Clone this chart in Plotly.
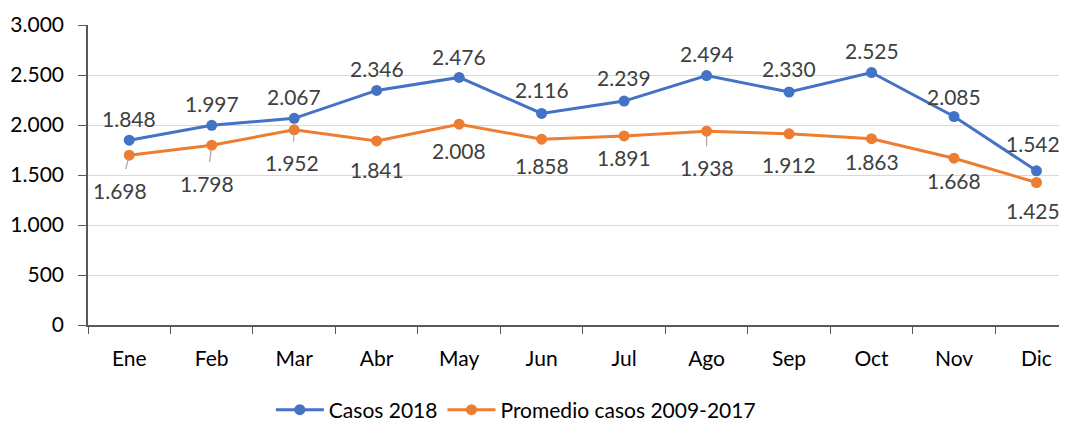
import plotly.graph_objects as go

MONTHS = ["Ene", "Feb", "Mar", "Abr", "May", "Jun", "Jul", "Ago", "Sep", "Oct", "Nov", "Dic"]
CASOS_2018 = [1848, 1997, 2067, 2346, 2476, 2116, 2239, 2494, 2330, 2525, 2085, 1542]
PROMEDIO_2009_2017 = [1698, 1798, 1952, 1841, 2008, 1858, 1891, 1938, 1912, 1863, 1668, 1425]

BLUE = "#4472C4"
ORANGE = "#ED7D31"
FONT = "Lato"

# label offsets in pixels (dx, dy); dy positive = up
BLUE_OFFSETS = [(0, 22), (0, 22), (0, 22), (0, 22), (0, 21), (0, 24), (0, 24), (0, 22),
                (0, 24), (0, 22), (0, 20), (-3, 27)]
ORANGE_OFFSETS = [(-9, -35), (-5, -38), (-2, -33), (0, -29), (0, -26), (0, -26), (0, -22), (0, -36),
                  (0, -31), (0, -23), (0, -22), (-3, -28)]
LEADERS = {"Ene", "Feb", "Mar", "Ago"}


def fmt(v: int) -> str:
    return f"{v:,}".replace(",", ".")


fig = go.Figure()
fig.add_trace(
    go.Scatter(
        x=MONTHS, y=CASOS_2018, mode="lines+markers", name="Casos 2018",
        line=dict(color=BLUE, width=3), marker=dict(size=11, color=BLUE),
    )
)
fig.add_trace(
    go.Scatter(
        x=MONTHS, y=PROMEDIO_2009_2017, mode="lines+markers", name="Promedio casos 2009-2017",
        line=dict(color=ORANGE, width=3), marker=dict(size=11, color=ORANGE),
    )
)

annotations = []
label_font = dict(family=FONT, size=21, color="#404040")
for m, v, (dx, dy) in zip(MONTHS, CASOS_2018, BLUE_OFFSETS):
    annotations.append(dict(x=m, y=v, text=fmt(v), showarrow=False, xshift=dx, yshift=dy, font=label_font))
for m, v, (dx, dy) in zip(MONTHS, PROMEDIO_2009_2017, ORANGE_OFFSETS):
    if m in LEADERS:
        annotations.append(dict(
            x=m, y=v, text=fmt(v), showarrow=True, ax=dx, ay=-dy, axref="pixel", ayref="pixel",
            arrowhead=0, arrowwidth=1.2, arrowcolor="#a6a6a6", standoff=4, borderpad=8,
            font=label_font,
        ))
    else:
        annotations.append(dict(x=m, y=v, text=fmt(v), showarrow=False, xshift=dx, yshift=dy, font=label_font))

# page body keeps its default 8px margin, so the figure is sized 8px smaller
fig.update_layout(
    width=1059, height=413,
    margin=dict(l=80, r=0, t=17, b=96, autoexpand=False),
    paper_bgcolor="white", plot_bgcolor="white",
    separators=",.",
    font=dict(family=FONT, size=21, color="#000000"),
    showlegend=True,
    legend=dict(orientation="h", x=0.437, xanchor="center", y=-0.215, yanchor="top",
                font=dict(family=FONT, size=21, color="#000000"), itemwidth=48),
    annotations=annotations,
)
fig.update_xaxes(
    range=[-0.5, 11.37], showline=True, linecolor="#595959", linewidth=1.5,
    ticks="outside", tickson="boundaries", ticklen=7, tickcolor="#595959",
    showgrid=False, automargin=False, ticklabelstandoff=14,
    tickfont=dict(family=FONT, size=21, color="#000000"),
)
fig.update_yaxes(
    range=[0, 3000], dtick=500, tickformat=",d", showline=True, linecolor="#595959", linewidth=1.5,
    ticks="outside", ticklen=8, tickcolor="#595959",
    showgrid=True, gridcolor="#d9d9d9", gridwidth=1, zeroline=False,
    automargin=False, ticklabelstandoff=10,
    tickfont=dict(family=FONT, size=21, color="#000000"),
)

fig.write_html("out.html")
